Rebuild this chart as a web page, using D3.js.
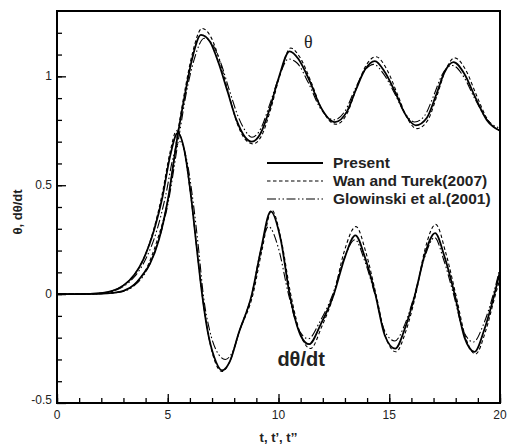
<!DOCTYPE html>
<html>
<head>
<meta charset="utf-8">
<script src="https://cdn.jsdelivr.net/npm/d3@7"></script>
<style>
  body { margin: 0; background: #fff; }
  text { font-family: "Liberation Sans", Arial, sans-serif; fill: #222; }
</style>
</head>
<body>
<div id="chart"></div>
<script>
// values as [t, value]
const presentTheta = [[0,0],[1,0],[2,0.002],[2.5,0.006],[3,0.015],[3.5,0.045],[3.8,0.08],[4.2,0.14],[4.6,0.25],[5,0.43],[5.45,0.73],[5.8,0.93],[6.1,1.08],[6.5,1.19],[6.9,1.16],[7.3,1.06],[7.7,0.93],[8.1,0.8],[8.5,0.72],[8.8,0.70],[9.2,0.74],[9.6,0.85],[10,0.99],[10.5,1.115],[10.9,1.08],[11.4,0.98],[11.9,0.86],[12.55,0.79],[13.1,0.84],[13.5,0.94],[13.9,1.03],[14.35,1.07],[14.8,1.02],[15.3,0.92],[15.7,0.83],[16.2,0.775],[16.7,0.81],[17.1,0.91],[17.5,1.02],[17.9,1.065],[18.4,1.01],[18.9,0.9],[19.4,0.8],[20,0.75]];
const wanTheta = [[0,0],[1,0],[2,0.002],[3,0.015],[3.5,0.045],[4,0.11],[4.5,0.24],[5,0.43],[5.45,0.74],[5.8,0.95],[6.1,1.10],[6.55,1.22],[6.95,1.18],[7.35,1.07],[7.75,0.92],[8.15,0.78],[8.5,0.71],[8.85,0.69],[9.25,0.73],[9.65,0.85],[10.05,1.0],[10.55,1.13],[10.95,1.09],[11.45,0.98],[11.95,0.85],[12.6,0.78],[13.1,0.83],[13.5,0.94],[13.95,1.05],[14.4,1.09],[14.9,1.03],[15.4,0.91],[15.8,0.81],[16.25,0.76],[16.75,0.80],[17.15,0.91],[17.55,1.03],[17.95,1.085],[18.45,1.03],[18.95,0.91],[19.45,0.80],[20,0.75]];
const glowTheta = [[0,0],[1,0],[2,0.002],[3,0.012],[3.5,0.04],[4,0.10],[4.5,0.22],[5,0.41],[5.5,0.72],[5.85,0.93],[6.2,1.08],[6.65,1.175],[7,1.15],[7.4,1.06],[7.8,0.93],[8.2,0.81],[8.5,0.75],[8.8,0.72],[9.2,0.76],[9.6,0.87],[10,0.99],[10.45,1.08],[10.85,1.06],[11.35,0.97],[11.85,0.86],[12.5,0.80],[13,0.84],[13.45,0.94],[13.85,1.02],[14.3,1.055],[14.75,1.01],[15.25,0.92],[15.65,0.84],[16.15,0.79],[16.6,0.82],[17,0.91],[17.4,1.01],[17.85,1.05],[18.35,1.0],[18.85,0.9],[19.35,0.81],[20,0.76]];

const presentRate = [[0,0],[1,0],[2,0.005],[2.5,0.015],[3,0.04],[3.5,0.09],[3.9,0.16],[4.4,0.30],[4.75,0.44],[5.1,0.63],[5.45,0.74],[5.75,0.66],[6.05,0.45],[6.3,0.22],[6.55,0],[6.8,-0.17],[7.1,-0.29],[7.45,-0.35],[7.8,-0.31],[8.2,-0.18],[8.8,0],[9.2,0.2],[9.65,0.38],[10.1,0.25],[10.5,0],[11,-0.19],[11.38,-0.23],[11.9,-0.14],[12.5,0],[13,0.17],[13.47,0.27],[13.9,0.17],[14.37,0],[14.8,-0.19],[15.27,-0.25],[15.7,-0.16],[16.17,0],[16.6,0.18],[17.07,0.28],[17.5,0.17],[17.95,0],[18.4,-0.2],[18.85,-0.265],[19.3,-0.16],[19.75,0],[20,0.105]];
const wanRate = [[0,0],[1,0],[2,0.005],[2.5,0.015],[3,0.04],[3.5,0.09],[3.9,0.16],[4.4,0.31],[4.75,0.46],[5.1,0.65],[5.4,0.75],[5.72,0.67],[6.03,0.46],[6.3,0.22],[6.55,0],[6.82,-0.18],[7.1,-0.30],[7.45,-0.355],[7.8,-0.31],[8.2,-0.18],[8.85,0],[9.25,0.2],[9.7,0.385],[10.12,0.25],[10.55,0],[11.05,-0.2],[11.45,-0.25],[11.95,-0.15],[12.5,0],[12.95,0.19],[13.5,0.31],[13.95,0.19],[14.4,0],[14.85,-0.2],[15.3,-0.265],[15.75,-0.17],[16.2,0],[16.6,0.2],[17.1,0.32],[17.55,0.19],[18,0],[18.45,-0.2],[18.9,-0.275],[19.35,-0.17],[19.8,0],[20,0.07]];
const glowRate = [[0,0],[1,0],[2,0.004],[2.5,0.012],[3,0.035],[3.5,0.08],[4,0.16],[4.5,0.29],[4.9,0.45],[5.25,0.63],[5.55,0.70],[5.85,0.62],[6.15,0.42],[6.4,0.2],[6.6,0],[6.9,-0.17],[7.2,-0.26],[7.6,-0.30],[7.95,-0.26],[8.3,-0.15],[8.8,0],[9.15,0.18],[9.55,0.31],[10,0.21],[10.45,0],[10.95,-0.17],[11.35,-0.205],[11.85,-0.13],[12.45,0],[12.95,0.16],[13.45,0.25],[13.9,0.15],[14.35,0],[14.8,-0.17],[15.25,-0.215],[15.7,-0.14],[16.15,0],[16.6,0.17],[17.05,0.26],[17.45,0.16],[17.9,0],[18.35,-0.17],[18.8,-0.22],[19.25,-0.14],[19.7,0],[20,0.12]];

const seriesNames = ["Present", "Wan and Turek(2007)", "Glowinski et al.(2001)"];
const xMajor = [0, 5, 10, 15, 20];
const yMajor = [-0.5, 0, 0.5, 1];

// layout
const W = 507, H = 446;
const margin = { top: 11, right: 7, bottom: 43, left: 57 };

const svg = d3.select("#chart").append("svg")
    .attr("width", W)
    .attr("height", H);

const x = d3.scaleLinear().domain([0, 20]).range([margin.left, W - margin.right]);
const y = d3.scaleLinear().domain([-0.5, 1.3]).range([H - margin.bottom, margin.top]);

// line styles: solid, dashed, dash-dot-dot
const styles = [
  { width: 1.8, dash: null },
  { width: 1.1, dash: "3.5,2.5" },
  { width: 1.1, dash: "9,2.5,1.5,2.5,1.5,2.5" }
];

const line = d3.line()
    .x(d => x(d[0]))
    .y(d => y(d[1]))
    .curve(d3.curveMonotoneX);

const groups = [
  [presentTheta, presentRate],
  [wanTheta, wanRate],
  [glowTheta, glowRate]
];

const plot = svg.append("g");
groups.forEach((g, i) => {
  g.forEach(data => {
    plot.append("path")
        .attr("d", line(data))
        .attr("fill", "none")
        .attr("stroke", "#000")
        .attr("stroke-width", styles[i].width)
        .attr("stroke-dasharray", styles[i].dash);
  });
});

// frame
svg.append("rect")
    .attr("x", x(0)).attr("y", y(1.3))
    .attr("width", x(20) - x(0)).attr("height", y(-0.5) - y(1.3))
    .attr("fill", "none").attr("stroke", "#000").attr("stroke-width", 2);

// ticks pointing inward
const xAxis = svg.append("g").attr("transform", "translate(0," + y(-0.5) + ")");
xAxis.call(d3.axisTop(x).ticks(20).tickSize(5).tickFormat(""));
xAxis.append("g").call(d3.axisTop(x).tickValues(xMajor).tickSize(9).tickFormat(""));
xAxis.selectAll("line").attr("stroke", "#000").attr("stroke-width", 1.3);
xAxis.selectAll(".domain").remove();

const yAxis = svg.append("g").attr("transform", "translate(" + x(0) + ",0)");
yAxis.call(d3.axisRight(y).tickValues(d3.range(-4, 13).map(v => v / 10)).tickSize(5).tickFormat(""));
yAxis.append("g").call(d3.axisRight(y).tickValues(yMajor).tickSize(9).tickFormat(""));
yAxis.selectAll("line").attr("stroke", "#000").attr("stroke-width", 1.3);
yAxis.selectAll(".domain").remove();

// tick labels
svg.selectAll(".xlab").data(xMajor).enter().append("text")
    .attr("x", d => x(d))
    .attr("y", y(-0.5) + 16)
    .attr("text-anchor", "middle")
    .style("font-size", "12px")
    .text(d => d);

svg.selectAll(".ylab").data(yMajor).enter().append("text")
    .attr("x", x(0) - 5)
    .attr("y", d => y(d) + (d === -0.5 ? 1 : 4))
    .attr("text-anchor", "end")
    .style("font-size", "12px")
    .text(d => d);

// axis titles
svg.append("text")
    .attr("x", (x(0) + x(20)) / 2)
    .attr("y", H - 4)
    .attr("text-anchor", "middle")
    .style("font-size", "13px")
    .style("font-weight", "bold")
    .text("t, t\u2019, t\u2019\u2019");

svg.append("text")
    .attr("transform", "translate(22," + 212 + ") rotate(-90)")
    .attr("text-anchor", "middle")
    .style("font-size", "13px")
    .style("font-weight", "bold")
    .text("\u03b8, d\u03b8/dt");

// curve labels
svg.append("text")
    .attr("x", x(11.15))
    .attr("y", y(1.13))
    .style("font-family", "'Liberation Serif', serif")
    .style("font-size", "18px")
    .text("\u03b8");

svg.append("text")
    .attr("x", x(9.95))
    .attr("y", y(-0.33))
    .style("font-size", "20px")
    .style("font-weight", "bold")
    .text("d\u03b8/dt");

// legend
const legend = svg.append("g");
seriesNames.forEach((name, i) => {
  const ly = 163 + i * 18;
  legend.append("line")
      .attr("x1", 267).attr("x2", 323)
      .attr("y1", ly).attr("y2", ly)
      .attr("stroke", "#000")
      .attr("stroke-width", styles[i].width)
      .attr("stroke-dasharray", styles[i].dash);
  legend.append("text")
      .attr("x", 333)
      .attr("y", ly + 5)
      .style("font-size", "15.5px")
      .style("font-weight", "bold")
      .text(name);
});
</script>
</body>
</html>
